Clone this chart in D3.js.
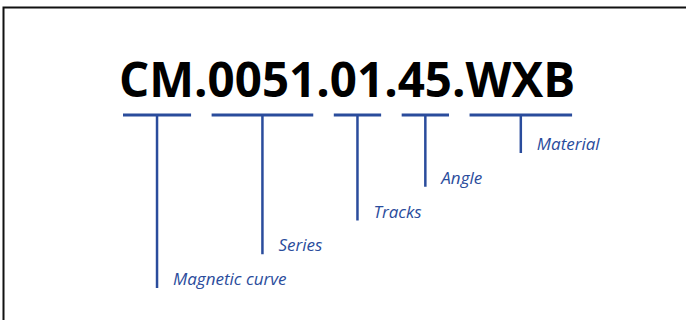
<!DOCTYPE html>
<html>
<head>
<meta charset="utf-8">
<script src="https://cdn.jsdelivr.net/npm/d3@7"></script>
<style>
  html, body { margin: 0; padding: 0; background: #fff; }
  svg { display: block; }
</style>
</head>
<body>
<div id="chart"></div>
<script>
// code segments, their meaning and how deep each stem drops (0 = shortest)
var segments = ["CM", "0051", "01", "45", "WXB"];
var labels = ["Magnetic curve", "Series", "Tracks", "Angle", "Material"];
var levels = [4, 3, 2, 1, 0];

var width = 686, height = 320;
var blue = "#2a4c9c";

var svg = d3.select("#chart").append("svg")
    .attr("width", width)
    .attr("height", height);

// frame: left and top edges only
svg.append("path")
    .attr("d", "M3.5," + height + "V7.5H" + width)
    .attr("fill", "none")
    .attr("stroke", "#111")
    .attr("stroke-width", 2);

// stem end positions by level
var y = d3.scaleLinear().domain([0, 4]).range([153, 288]);

var code = svg.append("text")
    .attr("x", 119)
    .attr("y", 97)
    .attr("font-family", "'Open Sans', sans-serif")
    .attr("font-weight", 700)
    .attr("font-size", "47.5px")
    .attr("fill", "#000");

segments.forEach(function(s, i) {
    code.append("tspan").text(s);
    if (i < segments.length - 1) code.append("tspan").text(".");
});

// measure each segment so the underline sits right under it
var x0 = 119;
var boxes = [];
code.selectAll("tspan").nodes().forEach(function(n, i) {
    var w = n.getComputedTextLength();
    if (i % 2 === 0) boxes.push({x1: x0, x2: x0 + w});
    x0 += w;
});

var g = svg.append("g");
segments.forEach(function(s, i) {
    var b = boxes[i];
    var lx1 = b.x1 + 4, lx2 = b.x2 - 3;
    var mx = (lx1 + lx2) / 2;
    g.append("line")
        .attr("x1", lx1).attr("x2", lx2)
        .attr("y1", 115).attr("y2", 115)
        .attr("stroke", blue).attr("stroke-width", 3);
    g.append("line")
        .attr("x1", mx).attr("x2", mx)
        .attr("y1", 115).attr("y2", y(levels[i]))
        .attr("stroke", blue).attr("stroke-width", 2.5);
    g.append("text")
        .attr("x", mx + 16)
        .attr("y", y(levels[i]) - 3)
        .attr("font-family", "'Open Sans', sans-serif")
        .attr("font-style", "italic")
        .attr("font-size", "17px")
        .attr("fill", blue)
        .text(labels[i]);
});
</script>
</body>
</html>
